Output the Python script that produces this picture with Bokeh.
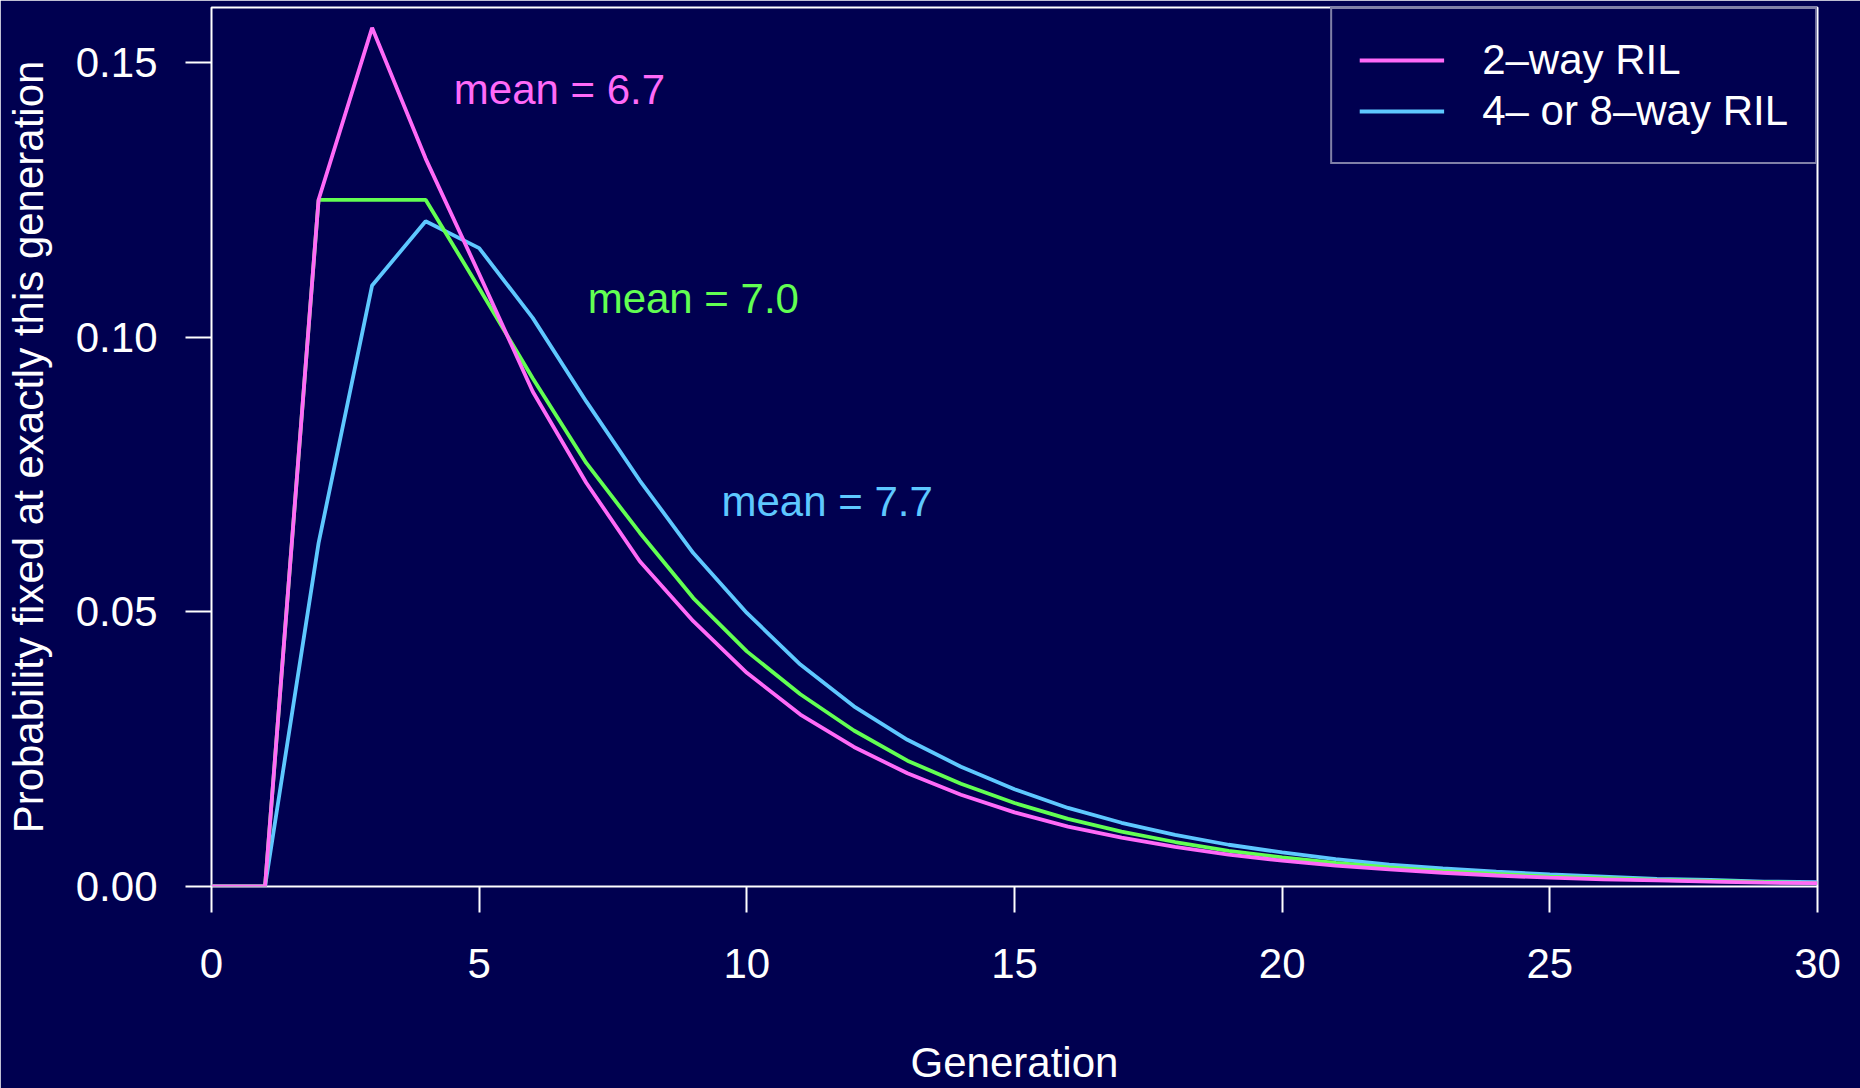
from bokeh.plotting import figure
from bokeh.models import ColumnDataSource, Range1d, FixedTicker, PrintfTickFormatter, Legend, LegendItem
from bokeh.core.properties import value
from bokeh.embed import file_html
from bokeh.resources import INLINE

# ---- data ----
generation = list(range(0, 31))
two_way = [0, 0, 0.125, 0.1563, 0.1325, 0.1115, 0.0901, 0.0735, 0.0592, 0.0483,
           0.0389, 0.0313, 0.0254, 0.0206, 0.0167, 0.0135, 0.0109, 0.0089, 0.0072, 0.0058,
           0.0047, 0.0038, 0.0031, 0.0025, 0.0020, 0.0016, 0.0013, 0.0011, 0.0009, 0.0007, 0.0006]
middle = [0, 0, 0.125, 0.125, 0.125, 0.1089, 0.0925, 0.0771, 0.0644, 0.0525,
          0.0428, 0.0350, 0.0284, 0.0229, 0.0187, 0.0152, 0.0123, 0.0100, 0.0081, 0.0065,
          0.0053, 0.0043, 0.0035, 0.0028, 0.0023, 0.0018, 0.0015, 0.0012, 0.0010, 0.0008, 0.0006]
four_eight = [0, 0, 0.0625, 0.1094, 0.1211, 0.1162, 0.1035, 0.0883, 0.0739, 0.0607,
              0.0498, 0.0404, 0.0328, 0.0267, 0.0218, 0.0177, 0.0143, 0.0116, 0.0094, 0.0076,
              0.0062, 0.0050, 0.0040, 0.0033, 0.0027, 0.0022, 0.0018, 0.0014, 0.0012, 0.0009, 0.0008]

label_x = [6.5, 9.0, 11.5]
label_y = [0.145, 0.107, 0.070]
label_text = ["mean = 6.7", "mean = 7.0", "mean = 7.7"]

x_ticks = [0, 5, 10, 15, 20, 25, 30]
y_ticks = [0.0, 0.05, 0.10, 0.15]
legend_labels = ["2\u2013way RIL", "4\u2013 or 8\u2013way RIL"]

# ---- style ----
BG = "#000050"
PINK = "#FF6AF8"
GREEN = "#62FF52"
CYAN = "#5EC8FF"
FONT = "Liberation Sans"
FS = "42px"
LW = 3.8

p = figure(width=1860, height=1088, output_backend="svg", toolbar_location=None,
           x_range=Range1d(0, 30), y_range=Range1d(0, 0.16),
           min_border_left=211, min_border_right=43, min_border_top=7, min_border_bottom=201)

p.background_fill_color = BG
p.border_fill_color = BG
p.outline_line_color = "white"
p.outline_line_width = 2
p.grid.visible = False

src = ColumnDataSource(dict(g=generation, a=two_way, b=middle, c=four_eight))
r_cyan = p.line("g", "c", source=src, line_color=CYAN, line_width=LW)
r_green = p.line("g", "b", source=src, line_color=GREEN, line_width=LW)
r_pink = p.line("g", "a", source=src, line_color=PINK, line_width=LW)

lab = ColumnDataSource(dict(x=label_x, y=label_y, t=label_text, col=[PINK, GREEN, CYAN]))
p.text(x="x", y="y", text="t", source=lab, text_color="col",
       text_font=value(FONT), text_font_size=value(FS),
       text_align="center", text_baseline="middle")

for ax in (p.xaxis[0], p.yaxis[0]):
    ax.axis_line_color = None
    ax.major_tick_line_color = "white"
    ax.major_tick_line_width = 2
    ax.major_tick_out = 26
    ax.major_tick_in = 0
    ax.minor_tick_line_color = None
    ax.major_label_text_color = "white"
    ax.major_label_text_font = FONT
    ax.major_label_text_font_size = FS
    ax.axis_label_text_color = "white"
    ax.axis_label_text_font = FONT
    ax.axis_label_text_font_size = FS
    ax.axis_label_text_font_style = "normal"

p.xaxis.ticker = FixedTicker(ticks=x_ticks)
p.yaxis.ticker = FixedTicker(ticks=y_ticks)
p.yaxis.formatter = PrintfTickFormatter(format="%.2f")
p.xaxis.major_label_standoff = 36
p.yaxis.major_label_standoff = 28
p.xaxis.axis_label = "Generation"
p.yaxis.axis_label = "Probability fixed at exactly this generation"
p.xaxis.axis_label_standoff = 58
p.yaxis.axis_label_standoff = 21

legend = Legend(items=[LegendItem(label=legend_labels[0], renderers=[r_pink]),
                       LegendItem(label=legend_labels[1], renderers=[r_cyan])],
                location="top_right", margin=0, padding=27, spacing=3,
                glyph_width=85, glyph_height=48, label_height=48, label_standoff=38,
                label_text_font=FONT, label_text_font_size=FS, label_text_color="white",
                background_fill_color=BG, background_fill_alpha=1.0,
                border_line_color="white", border_line_width=2)
p.add_layout(legend)

open("out.html", "w").write(file_html(p, INLINE))
